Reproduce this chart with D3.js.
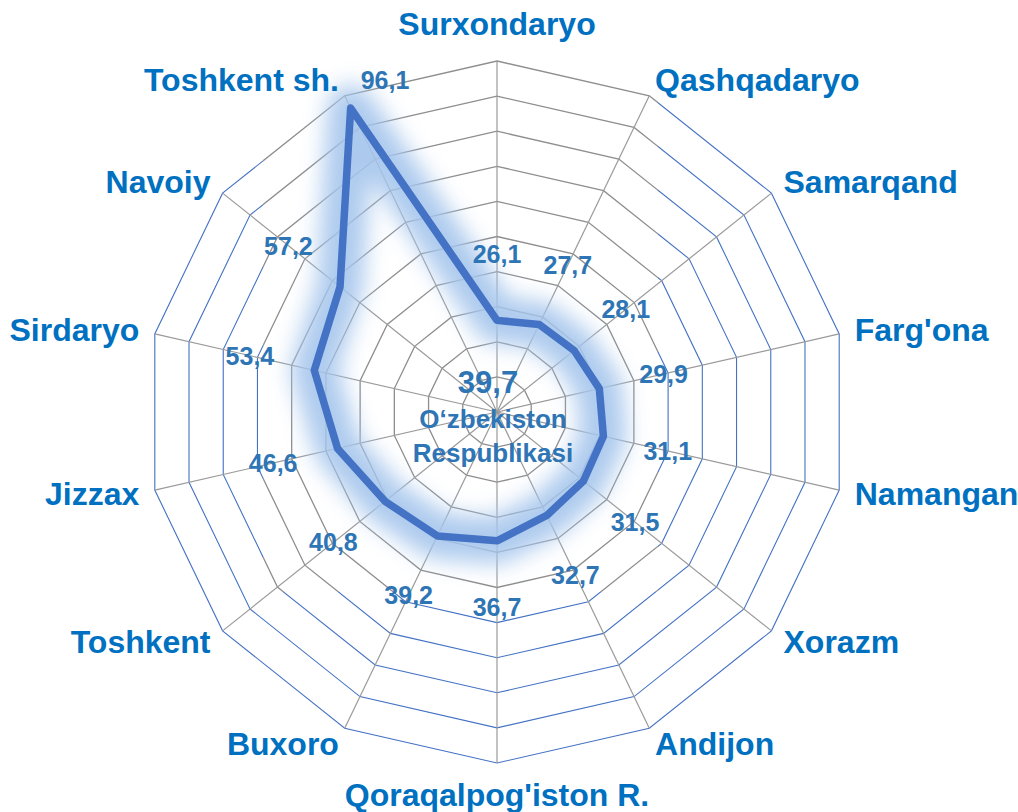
<!DOCTYPE html>
<html>
<head>
<meta charset="utf-8">
<script src="https://cdn.jsdelivr.net/npm/d3@7"></script>
<style>
  html, body { margin: 0; padding: 0; background: #ffffff; }
  svg { display: block; }
</style>
</head>
<body>
<svg id="chart" width="1018" height="812"></svg>
<script>
// ---------------- DATA ----------------
const categories = [
  "Surxondaryo", "Qashqadaryo", "Samarqand", "Farg'ona", "Namangan",
  "Xorazm", "Andijon", "Qoraqalpog'iston R.", "Buxoro", "Toshkent",
  "Jizzax", "Sirdaryo", "Navoiy", "Toshkent sh."
];
const values = [26.1, 27.7, 28.1, 29.9, 31.1, 31.5, 32.7, 36.7, 39.2, 40.8, 46.6, 53.4, 57.2, 96.1];
const valueLabels = ["26,1", "27,7", "28,1", "29,9", "31,1", "31,5", "32,7", "36,7", "39,2", "40,8", "46,6", "53,4", "57,2", "96,1"];
const ringTicks = [10, 20, 30, 40, 50, 60, 70, 80, 90, 100];
const totalLabel = "39,7";
const totalLines = ["O\u2018zbekiston", "Respublikasi"];

// ---------------- LAYOUT / STYLE ----------------
const W = 1018, H = 812;
const cx = 497, cy = 412, R = 351;
const FONT = "'Liberation Sans', Arial, Helvetica, sans-serif";
const blueGrid = "#4472C4";
const grayGrid = "#8E8E8E";
const spokeColor = "#9A9A9A";
const lineColor = "#4472C4";
const catColor = "#0070C0";
const valColor = "#2E75B6";

const svg = d3.select("#chart");
const defs = svg.append("defs");

const rScale = d3.scaleLinear().domain([0, 100]).range([0, R]);
const aScale = d3.scaleLinear().domain([0, categories.length]).range([0, 2 * Math.PI]);

const g = svg.append("g").attr("transform", `translate(${cx},${cy})`);

function pt(i, rad) {
  const a = aScale(i);
  return [rad * Math.sin(a), -rad * Math.cos(a)];
}

// filters
const glow = defs.append("filter").attr("id", "glow")
  .attr("x", "-30%").attr("y", "-30%").attr("width", "160%").attr("height", "160%");
glow.append("feGaussianBlur").attr("stdDeviation", 11);

// clip for gray part of the grid
defs.append("clipPath").attr("id", "grayClip")
  .append("rect").attr("x", 263 - cx).attr("y", -cy).attr("width", 395).attr("height", 592);
defs.append("clipPath").attr("id", "blueClip")
  .append("path").attr("clip-rule", "evenodd")
  .attr("d", `M${-cx},${-cy}H${W - cx}V${H - cy}H${-cx}Z M${263 - cx},${-cy}h395v592h-395Z`);

const ringLine = d3.lineRadial()
  .angle((d, i) => aScale(i))
  .radius(d => rScale(d))
  .curve(d3.curveLinearClosed);

// rings: blue outside the overlay rect, gray inside
const ringsBlue = g.append("g").attr("clip-path", "url(#blueClip)");
const ringsGray = g.append("g").attr("clip-path", "url(#grayClip)");
ringTicks.forEach(t => {
  const arr = categories.map(() => t);
  ringsBlue.append("path").attr("d", ringLine(arr))
    .attr("fill", "none").attr("stroke", blueGrid).attr("stroke-width", 1.1);
  ringsGray.append("path").attr("d", ringLine(arr))
    .attr("fill", "none").attr("stroke", grayGrid).attr("stroke-width", 1.3);
});

// spokes
categories.forEach((c, i) => {
  const p = pt(i, rScale(100));
  g.append("line").attr("x1", 0).attr("y1", 0).attr("x2", p[0]).attr("y2", p[1])
    .attr("stroke", spokeColor).attr("stroke-width", 1.2);
});

// data line with glow
const dataLine = d3.lineRadial()
  .angle((d, i) => aScale(i))
  .radius(d => rScale(d))
  .curve(d3.curveLinearClosed);

g.append("path").attr("d", dataLine(values))
  .attr("fill", "none").attr("stroke", "#A4C5EC").attr("stroke-width", 46)
  .attr("stroke-linejoin", "round").attr("opacity", 0.9)
  .attr("filter", "url(#glow)");
g.append("path").attr("d", dataLine(values))
  .attr("fill", "none").attr("stroke", lineColor).attr("stroke-width", 7.5)
  .attr("stroke-linejoin", "round");

// value labels
const labelPad = 66;
values.forEach((v, i) => {
  const rv = rScale(v);
  let x, y;
  if (rv + labelPad > R) {
    // no room outward: put beside the point (clockwise tangent)
    const a = aScale(i);
    const p = pt(i, rv + 10);
    x = p[0] + 43 * Math.cos(a);
    y = p[1] + 43 * Math.sin(a);
  } else {
    [x, y] = pt(i, rv + labelPad);
  }
  g.append("text").attr("x", x).attr("y", y)
    .attr("text-anchor", "middle").attr("dominant-baseline", "central")
    .attr("font-family", FONT).attr("font-weight", "bold").attr("font-size", 25)
    .attr("fill", valColor).text(valueLabels[i]);
});

// category labels
categories.forEach((c, i) => {
  const a = aScale(i);
  const s = Math.sin(a), co = Math.cos(a);
  let [x, y] = pt(i, R + 18);
  let anchor = "middle";
  if (Math.abs(s) < 0.1) {
    y += co > 0 ? -19 : 14;
  } else {
    anchor = s > 0 ? "start" : "end";
    x += s > 0 ? -2 : 2;
  }
  g.append("text").attr("x", x).attr("y", y)
    .attr("text-anchor", anchor).attr("dominant-baseline", "central")
    .attr("font-family", FONT).attr("font-weight", "bold").attr("font-size", 32)
    .attr("fill", catColor).text(c);
});

// center label
g.append("text").attr("x", -9).attr("y", -19)
  .attr("text-anchor", "middle")
  .attr("font-family", FONT).attr("font-weight", "bold").attr("font-size", 31)
  .attr("fill", valColor).text(totalLabel);
totalLines.forEach((t, k) => {
  g.append("text").attr("x", -4).attr("y", 16 + k * 34)
    .attr("text-anchor", "middle")
    .attr("font-family", FONT).attr("font-weight", "bold").attr("font-size", 26)
    .attr("fill", valColor).text(t);
});
</script>
</body>
</html>
